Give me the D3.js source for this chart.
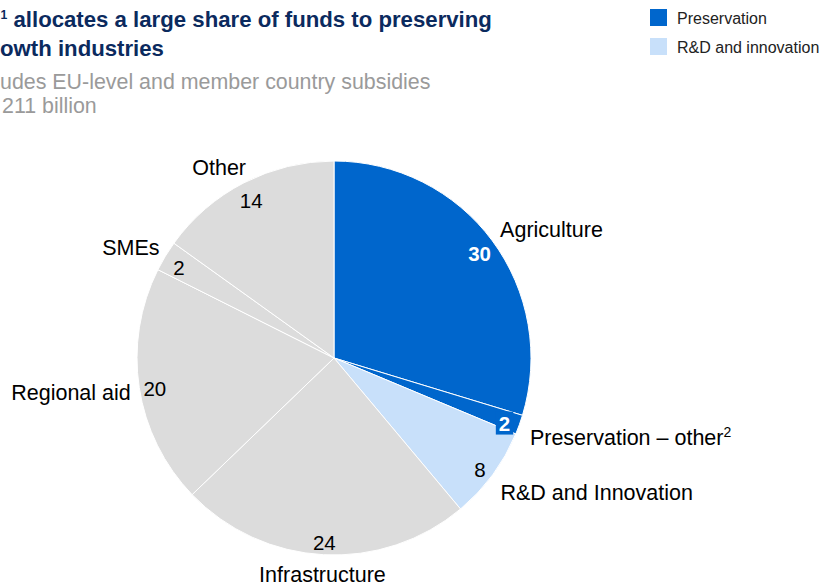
<!DOCTYPE html>
<html>
<head>
<meta charset="utf-8">
<script src="https://cdn.jsdelivr.net/npm/d3@7"></script>
<style>
  body { margin: 0; background: #fff; }
  svg { display: block; font-family: "Liberation Sans", Arial, sans-serif; }
</style>
</head>
<body>
<div id="chart"></div>
<script>
// slice data, clockwise from 12 o'clock
const categories = ["Agriculture", "Preservation – other", "R&D and Innovation", "Infrastructure", "Regional aid", "SMEs", "Other"];
const shares = [29.7, 1.6, 7.6, 23.9, 19.6, 2.5, 15.1]; // share of angle
const valueLabels = ["30", "2", "8", "24", "20", "2", "14"];
const groups = ["pres", "pres", "rd", "other", "other", "other", "other"];
const legendItems = ["Preservation", "R&D and innovation"];
const legendGroups = ["pres", "rd"];

const width = 824, height = 586;
const cx = 334, cy = 358, radius = 197;

const color = d3.scaleOrdinal()
  .domain(["pres", "rd", "other"])
  .range(["#0066cc", "#c8e0fa", "#dcdcdc"]);

const svg = d3.select("#chart").append("svg")
  .attr("width", width)
  .attr("height", height);

/* title and subtitle, clipped at the left edge like the source */
function clippedLine(prefix, sup, rest, y, size, weight, fill, startX) {
  const t = svg.append("text")
    .attr("y", y)
    .style("font-size", size + "px")
    .style("font-weight", weight)
    .attr("fill", fill);
  const p = t.append("tspan").text(prefix);
  if (sup) {
    t.append("tspan").attr("dy", -8).style("font-size", (size * 0.55) + "px").text(sup);
    t.append("tspan").attr("dy", 8).text(rest);
  } else {
    t.append("tspan").text(rest);
  }
  const w = p.node().getComputedTextLength();
  t.attr("x", startX - w);
}

clippedLine("The EU", "1", " allocates a large share of funds to preserving", 27, 22.2, "bold", "#0b2a5e", 0.5);
clippedLine("low-gr", null, "owth industries", 56, 22.2, "bold", "#0b2a5e", 0);
clippedLine("Incl", null, "udes EU-level and member country subsidies", 89, 21.4, "normal", "#9a9a9a", 0);
clippedLine("100% = EUR ", null, "211 billion", 113, 21.4, "normal", "#9a9a9a", 2);

/* legend */
const legend = svg.append("g").attr("transform", "translate(650,9)");
legendItems.forEach((d, i) => {
  legend.append("rect")
    .attr("x", 0)
    .attr("y", i * 29)
    .attr("width", 17)
    .attr("height", 17)
    .attr("fill", color(legendGroups[i]));
  legend.append("text")
    .attr("x", 27)
    .attr("y", i * 29 + 15)
    .style("font-size", "16px")
    .attr("fill", "#222")
    .text(d);
});

/* pie */
const pie = d3.pie().sort(null).value(d => d);
const arcs = pie(shares);
const arc = d3.arc().innerRadius(0).outerRadius(radius);

const g = svg.append("g").attr("transform", `translate(${cx},${cy})`);

g.selectAll("path")
  .data(arcs)
  .enter()
  .append("path")
  .attr("d", arc)
  .attr("fill", (d, i) => color(groups[i]))
  .attr("stroke", "#fff")
  .attr("stroke-width", 1);

const valueArc = d3.arc().innerRadius(radius * 0.92).outerRadius(radius * 0.92);
const nameArc = d3.arc().innerRadius(radius * 1.1).outerRadius(radius * 1.1);

// value labels
arcs.forEach((d, i) => {
  const [x, y] = valueArc.centroid(d);
  const onBlue = groups[i] === "pres";
  const t = g.append("text")
    .attr("x", x)
    .attr("y", y + 4)
    .attr("dy", "0.35em")
    .attr("text-anchor", "middle")
    .style("font-size", "20.5px")
    .style("font-weight", onBlue ? "bold" : "normal")
    .attr("fill", onBlue ? "#fff" : "#000")
    .text(valueLabels[i]);
  if (shares[i] < 2) {
    const b = t.node().getBBox();
    g.insert("rect", () => t.node())
      .attr("x", b.x - 3)
      .attr("y", b.y)
      .attr("width", b.width + 6)
      .attr("height", b.height)
      .attr("fill", color(groups[i]));
  }
});

// category labels
arcs.forEach((d, i) => {
  const [x, y] = nameArc.centroid(d);
  const mid = (d.startAngle + d.endAngle) / 2;
  const s = Math.sin(mid), c = Math.cos(mid);
  const anchor = Math.abs(s) < 0.3 ? "middle" : (s > 0 ? "start" : "end");
  const t = g.append("text")
    .attr("x", x + (anchor === "start" ? -8 : anchor === "end" ? 11 : 0))
    .attr("y", y + (anchor === "start" && c < 0 ? 6 : anchor === "end" ? 2 : 0))
    .attr("dy", "0.35em")
    .attr("text-anchor", anchor)
    .style("font-size", "21.5px")
    .attr("fill", "#000")
    .text(categories[i]);
  if (i === 1) {
    t.append("tspan").attr("dy", -8).style("font-size", "14px").text("2");
  }
});
</script>
</body>
</html>
